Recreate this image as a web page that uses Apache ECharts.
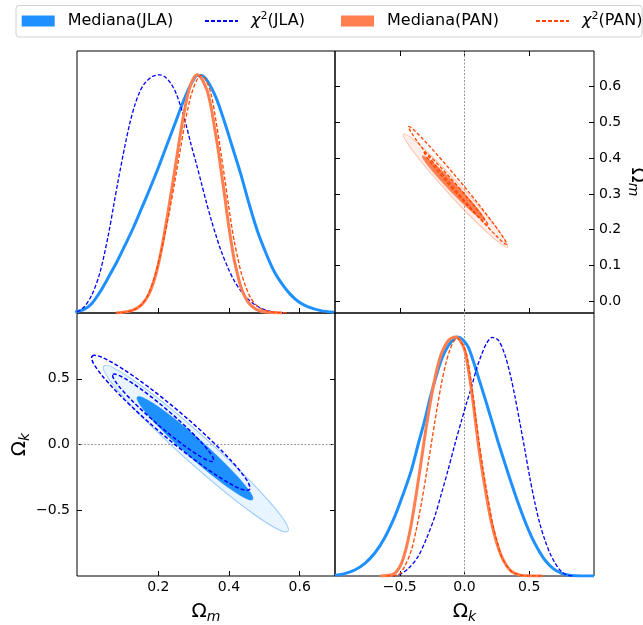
<!DOCTYPE html>
<html><head><meta charset="utf-8">
<script src="https://cdn.jsdelivr.net/npm/echarts@6/dist/echarts.min.js"></script>
<style>html,body{margin:0;padding:0;background:#fff}#c{width:643px;height:625px}</style>
</head><body><div id="c"></div>
<script>
const FONT = 'DejaVu Sans';

// ---- 1D marginals: Omega_m (top-left), [Omega_m, normalized density]
const jlaMedOm = [[-0.035,0.004],[-0.010,0.015],[0.012,0.040],[0.035,0.088],[0.059,0.150],[0.083,0.215],[0.106,0.285],[0.130,0.360],[0.153,0.440],[0.177,0.525],[0.200,0.610],[0.223,0.700],[0.246,0.790],[0.266,0.870],[0.284,0.935],[0.298,0.975],[0.310,0.997],[0.322,0.997],[0.340,0.972],[0.363,0.905],[0.387,0.804],[0.410,0.695],[0.434,0.580],[0.457,0.458],[0.481,0.342],[0.505,0.250],[0.528,0.174],[0.552,0.118],[0.575,0.076],[0.598,0.046],[0.622,0.027],[0.660,0.010],[0.697,0.003]];
const jlaChiOm = [[-0.030,0.004],[-0.010,0.025],[0.012,0.076],[0.035,0.170],[0.059,0.330],[0.073,0.445],[0.087,0.560],[0.106,0.705],[0.120,0.800],[0.134,0.875],[0.148,0.930],[0.162,0.965],[0.183,0.993],[0.204,1.0],[0.220,0.990],[0.237,0.960],[0.251,0.920],[0.265,0.860],[0.279,0.788],[0.293,0.706],[0.308,0.625],[0.322,0.545],[0.336,0.465],[0.350,0.390],[0.364,0.322],[0.378,0.260],[0.397,0.190],[0.415,0.135],[0.434,0.092],[0.453,0.060],[0.472,0.036],[0.491,0.020],[0.510,0.010],[0.528,0.004],[0.560,0.001]];
const panMedOm = [[0.080,0],[0.106,0.004],[0.130,0.013],[0.153,0.035],[0.172,0.075],[0.190,0.146],[0.204,0.230],[0.218,0.340],[0.232,0.465],[0.246,0.594],[0.256,0.690],[0.265,0.775],[0.275,0.857],[0.284,0.920],[0.297,0.978],[0.310,1.0],[0.322,0.985],[0.331,0.960],[0.340,0.925],[0.350,0.860],[0.359,0.780],[0.369,0.690],[0.378,0.595],[0.388,0.490],[0.397,0.390],[0.406,0.300],[0.415,0.222],[0.425,0.158],[0.434,0.108],[0.448,0.060],[0.462,0.032],[0.480,0.013],[0.500,0.004],[0.550,0]];
const panChiOm = [[0.080,0],[0.106,0.004],[0.130,0.013],[0.153,0.035],[0.172,0.080],[0.190,0.155],[0.204,0.235],[0.218,0.325],[0.232,0.430],[0.246,0.545],[0.261,0.675],[0.275,0.795],[0.284,0.860],[0.293,0.915],[0.308,0.975],[0.322,0.998],[0.336,0.975],[0.350,0.915],[0.364,0.800],[0.378,0.665],[0.388,0.565],[0.397,0.470],[0.406,0.380],[0.415,0.300],[0.425,0.230],[0.434,0.172],[0.448,0.108],[0.462,0.062],[0.476,0.035],[0.491,0.018],[0.510,0.008],[0.528,0.003],[0.570,0]];

// ---- 1D marginals: Omega_k (bottom-right), [Omega_k, normalized density]
const jlaMedOk = [[-1.0,0.003],[-0.925,0.010],[-0.848,0.025],[-0.771,0.052],[-0.694,0.095],[-0.616,0.160],[-0.539,0.248],[-0.475,0.340],[-0.410,0.443],[-0.358,0.550],[-0.307,0.652],[-0.268,0.740],[-0.230,0.815],[-0.191,0.885],[-0.152,0.938],[-0.103,0.980],[-0.054,1.0],[-0.013,0.988],[0.028,0.958],[0.066,0.902],[0.105,0.835],[0.157,0.745],[0.209,0.652],[0.260,0.560],[0.312,0.471],[0.364,0.385],[0.415,0.304],[0.466,0.230],[0.518,0.164],[0.570,0.110],[0.621,0.067],[0.685,0.031],[0.750,0.011],[0.800,0.004],[0.853,0.001],[1.0,0]];
const jlaChiOk = [[-0.60,0],[-0.513,0.004],[-0.436,0.030],[-0.359,0.081],[-0.295,0.155],[-0.230,0.248],[-0.178,0.345],[-0.127,0.443],[-0.075,0.550],[-0.023,0.650],[0.015,0.722],[0.054,0.790],[0.092,0.865],[0.131,0.925],[0.172,0.975],[0.214,0.998],[0.263,0.985],[0.312,0.925],[0.350,0.850],[0.389,0.752],[0.428,0.640],[0.467,0.525],[0.505,0.410],[0.544,0.305],[0.582,0.218],[0.621,0.150],[0.660,0.095],[0.698,0.055],[0.737,0.025],[0.776,0.008],[0.810,0.002],[0.850,0]];
const panMedOk = [[-0.65,0],[-0.565,0.004],[-0.526,0.018],[-0.487,0.053],[-0.449,0.120],[-0.410,0.220],[-0.372,0.345],[-0.333,0.485],[-0.295,0.625],[-0.256,0.750],[-0.217,0.855],[-0.178,0.930],[-0.124,0.985],[-0.070,1.0],[-0.034,0.985],[0.002,0.944],[0.028,0.870],[0.054,0.777],[0.080,0.668],[0.105,0.558],[0.131,0.460],[0.157,0.373],[0.183,0.292],[0.209,0.222],[0.248,0.140],[0.286,0.082],[0.325,0.043],[0.363,0.019],[0.415,0.006],[0.467,0.001],[0.60,0]];
const panChiOk = [[-0.60,0],[-0.513,0.004],[-0.462,0.040],[-0.410,0.109],[-0.372,0.195],[-0.333,0.304],[-0.295,0.425],[-0.256,0.554],[-0.217,0.685],[-0.178,0.805],[-0.146,0.885],[-0.114,0.944],[-0.084,0.980],[-0.054,0.995],[-0.020,0.975],[0.015,0.930],[0.041,0.850],[0.067,0.752],[0.092,0.645],[0.118,0.540],[0.144,0.445],[0.170,0.360],[0.196,0.280],[0.221,0.208],[0.254,0.140],[0.286,0.082],[0.325,0.043],[0.363,0.019],[0.415,0.006],[0.467,0.001],[0.60,0]];

// ---- 2D contours: [centerX, centerY, majorTipX, majorTipY, minorTipX, minorTipY] (2σ first, then 1σ)
const jlaMedContours = [[0.3063,-0.032,0.5668,-0.660,0.3331,0.047],[0.3038,-0.029,0.467,-0.419,0.3217,0.0251]];
const jlaChiContours = [[0.2353,0.1645,0.4579,-0.3427,0.2610,0.2458],[0.2139,0.203,0.3561,-0.126,0.2298,0.2523]];
const panMedContours = [[-0.0688,0.3094,0.3326,0.1513,-0.0288,0.3225],[-0.0843,0.3163,0.157,0.2258,-0.0603,0.3247]];
const panChiContours = [[-0.0534,0.3239,0.3248,0.1589,-0.0265,0.3318],[-0.065,0.3149,0.1825,0.2118,-0.0487,0.32]];

// ---- reference lines at Omega_k = 0
const zeroLineTR = [[0,-0.033],[0,0.7]];
const zeroLineBR = [[0,0],[0,1.1]];
const zeroLineBL = [[-0.03,0],[0.7,0]];

// ---- ticks
const omTicks = [0.2,0.4,0.6];
const okTicks = [-0.5,0,0.5];
const omTicksRight = [0,0.1,0.2,0.3,0.4,0.5,0.6];

// ---- annotations
const panLabel = [{name:'Pantheon', value:[0.412,0.593]}];
const jlaLabel = [{name:'JLA', value:[0.11,-0.706]}];

const legendNames = ['Mediana(JLA)','χ2(JLA)','Mediana(PAN)','χ2(PAN)'];

const C_JLA = '#1e90ff', C_JLA_CHI = '#0000ff', C_PAN = '#ff7f50', C_PAN_CHI = '#ff4500';

const fmt = v => (v < 0 ? '\u2212' : '') + Math.abs(v).toFixed(1);
const nameRich = {
  o: {fontFamily: FONT, fontSize: 20, lineHeight: 24, color: '#000'},
  s: {fontFamily: FONT, fontSize: 14, fontStyle: 'italic', lineHeight: 14, verticalAlign: 'bottom', color: '#000'}
};
const tickStyle = {show: true, inside: true, length: 5, lineStyle: {color: '#000', width: 1}};

function axisBase(extra) {
  return Object.assign({
    type: 'value',
    axisLine: {show: false, onZero: false},
    splitLine: {show: false},
    axisTick: tickStyle,
    axisLabel: {show: false},
    nameTextStyle: {rich: nameRich}
  }, extra);
}
function ticks(values) { return Object.assign({}, tickStyle, {customValues: values}); }
function labels(values, margin) {
  return {show: true, color: '#000', fontFamily: FONT, fontSize: 14, margin, formatter: fmt, customValues: values};
}

function curve(name, data, xi, yi, color, width, dashed, z) {
  return {type: 'line', name, data, xAxisIndex: xi, yAxisIndex: yi, smooth: 0.3, symbol: 'none',
    silent: true, z, lineStyle: {color, width, type: dashed ? [4, 2] : 'solid'}, itemStyle: {color}};
}

function contours(name, data, xi, yi, styles, z) {
  return {
    type: 'custom', name, coordinateSystem: 'cartesian2d', xAxisIndex: xi, yAxisIndex: yi,
    data, z, silent: true, encode: {x: 0, y: 1},
    renderItem: function (params, api) {
      const c = api.coord([api.value(0), api.value(1)]);
      const t = api.coord([api.value(2), api.value(3)]);
      const m = api.coord([api.value(4), api.value(5)]);
      const dx = t[0] - c[0], dy = t[1] - c[1];
      return {
        type: 'ellipse', x: c[0], y: c[1], rotation: -Math.atan2(dy, dx),
        shape: {cx: 0, cy: 0, rx: Math.hypot(dx, dy), ry: Math.hypot(m[0] - c[0], m[1] - c[1])},
        style: styles[params.dataIndex]
      };
    }
  };
}

function refLine(data, xi, yi) {
  return {type: 'line', data, xAxisIndex: xi, yAxisIndex: yi, symbol: 'none', silent: true, z: 1,
    lineStyle: {color: '#999', width: 1, type: [2, 1.5]}};
}

function annot(data, xi, yi, color) {
  return {type: 'scatter', data, xAxisIndex: xi, yAxisIndex: yi, symbolSize: 1, silent: true, z: 6,
    itemStyle: {opacity: 0},
    label: {show: true, position: 'inside', formatter: '{b}', color, fontFamily: FONT, fontSize: 15}};
}

const legendRich = {
  c: {fontFamily: FONT, fontSize: 16, fontStyle: 'italic', lineHeight: 20, color: '#000'},
  s: {fontFamily: FONT, fontSize: 11, lineHeight: 11, verticalAlign: 'top', color: '#000'},
  t: {fontFamily: FONT, fontSize: 16, lineHeight: 20, color: '#000'}
};
function legendAt(item, left) {
  return {
    data: [item], left, top: 11, padding: 0, itemWidth: 33, itemHeight: 11, selectedMode: false,
    textStyle: {fontFamily: FONT, fontSize: 16, lineHeight: 20, color: '#000', padding: [0, 0, 0, 8], rich: legendRich},
    formatter: n => n.charAt(0) === 'χ' ? '{c|χ}{s|2}{t|' + n.slice(2) + '}' : n
  };
}

const gridBase = {show: true, borderColor: '#000', borderWidth: 1, backgroundColor: 'rgba(0,0,0,0)',
  containLabel: false, outerBoundsMode: 'none'};

const option = {
  animation: false,
  backgroundColor: '#fff',
  textStyle: {fontFamily: FONT},
  graphic: [{type: 'rect', z: 0, shape: {x: 16, y: 5.5, width: 626, height: 31.5, r: 3},
    style: {fill: '#fff', stroke: '#d0d0d0', lineWidth: 1}}],
  legend: [
    legendAt({name: legendNames[0], icon: 'rect', itemStyle: {color: C_JLA, borderWidth: 0}}, 21.7),
    legendAt({name: legendNames[1], itemStyle: {opacity: 0}}, 204),
    legendAt({name: legendNames[2], icon: 'rect', itemStyle: {color: C_PAN, borderWidth: 0}}, 341),
    legendAt({name: legendNames[3], itemStyle: {opacity: 0}}, 535)
  ],
  grid: [
    Object.assign({left: 77, top: 51, width: 258, height: 262}, gridBase),
    Object.assign({left: 335, top: 51, width: 259, height: 262}, gridBase),
    Object.assign({left: 77, top: 313, width: 258, height: 263}, gridBase),
    Object.assign({left: 335, top: 313, width: 259, height: 263}, gridBase)
  ],
  xAxis: [
    axisBase({gridIndex: 0, min: -0.03, max: 0.7, axisTick: ticks(omTicks)}),
    axisBase({gridIndex: 1, min: -1, max: 1, axisTick: ticks(okTicks)}),
    axisBase({gridIndex: 2, min: -0.03, max: 0.7, axisTick: ticks(omTicks), axisLabel: labels(omTicks, 4),
      name: '{o|Ω}{s|m}', nameLocation: 'middle', nameGap: 24}),
    axisBase({gridIndex: 3, min: -1, max: 1, axisTick: ticks(okTicks), axisLabel: labels(okTicks, 4),
      name: '{o|Ω}{s|k}', nameLocation: 'middle', nameGap: 24}),
    axisBase({gridIndex: 1, position: 'top', min: -1, max: 1, axisTick: ticks(okTicks)})
  ],
  yAxis: [
    axisBase({gridIndex: 0, min: 0, max: 1.1, axisTick: {show: false}}),
    axisBase({gridIndex: 1, position: 'right', min: -0.033, max: 0.7, axisTick: ticks(omTicksRight),
      axisLabel: labels(omTicksRight, 5),
      name: '{o|Ω}{s|m}', nameLocation: 'middle', nameRotate: -90, nameGap: 29}),
    axisBase({gridIndex: 2, min: -1, max: 1, axisTick: ticks(okTicks), axisLabel: labels(okTicks, 7),
      name: '{o|Ω}{s|k}', nameLocation: 'middle', nameRotate: 90, nameGap: 44}),
    axisBase({gridIndex: 3, min: 0, max: 1.1, axisTick: {show: false}}),
    axisBase({gridIndex: 1, position: 'left', min: -0.033, max: 0.7, axisTick: ticks(omTicksRight)}),
    axisBase({gridIndex: 2, position: 'right', min: -1, max: 1, axisTick: ticks(okTicks)})
  ],
  series: [
    // top-left: Omega_m marginals
    curve(legendNames[0], jlaMedOm, 0, 0, C_JLA, 3, false, 3),
    curve(legendNames[1], jlaChiOm, 0, 0, C_JLA_CHI, 1.3, true, 4),
    curve(legendNames[2], panMedOm, 0, 0, C_PAN, 3, false, 5),
    curve(legendNames[3], panChiOm, 0, 0, C_PAN_CHI, 1.3, true, 6),
    // bottom-right: Omega_k marginals
    refLine(zeroLineBR, 3, 3),
    curve(legendNames[0], jlaMedOk, 3, 3, C_JLA, 3, false, 3),
    curve(legendNames[1], jlaChiOk, 3, 3, C_JLA_CHI, 1.3, true, 4),
    curve(legendNames[2], panMedOk, 3, 3, C_PAN, 3, false, 5),
    curve(legendNames[3], panChiOk, 3, 3, C_PAN_CHI, 1.3, true, 6),
    // bottom-left: JLA contours
    refLine(zeroLineBL, 2, 2),
    contours(legendNames[0], jlaMedContours, 2, 2, [
      {fill: 'rgba(30,144,255,0.1)', stroke: 'rgba(30,144,255,0.45)', lineWidth: 1},
      {fill: C_JLA, stroke: C_JLA, lineWidth: 0.5}], 2),
    contours(legendNames[1], jlaChiContours, 2, 2, [
      {fill: 'none', stroke: C_JLA_CHI, lineWidth: 1.5, lineDash: [4, 2.2]},
      {fill: 'none', stroke: C_JLA_CHI, lineWidth: 1.5, lineDash: [4, 2.2]}], 3),
    annot(jlaLabel, 2, 2, '#0000ff'),
    // top-right: Pantheon contours
    refLine(zeroLineTR, 1, 1),
    contours(legendNames[2], panMedContours, 1, 1, [
      {fill: 'rgba(255,127,80,0.12)', stroke: 'rgba(255,127,80,0.45)', lineWidth: 1},
      {fill: C_PAN, stroke: C_PAN, lineWidth: 0.5}], 2),
    contours(legendNames[3], panChiContours, 1, 1, [
      {fill: 'none', stroke: C_PAN_CHI, lineWidth: 1.3, lineDash: [3.5, 2]},
      {fill: 'none', stroke: C_PAN_CHI, lineWidth: 1.3, lineDash: [3.5, 2]}], 3),
    annot(panLabel, 1, 1, C_PAN_CHI)
  ]
};

const chart = echarts.init(document.getElementById('c'));
chart.setOption(option);
</script></body></html>
